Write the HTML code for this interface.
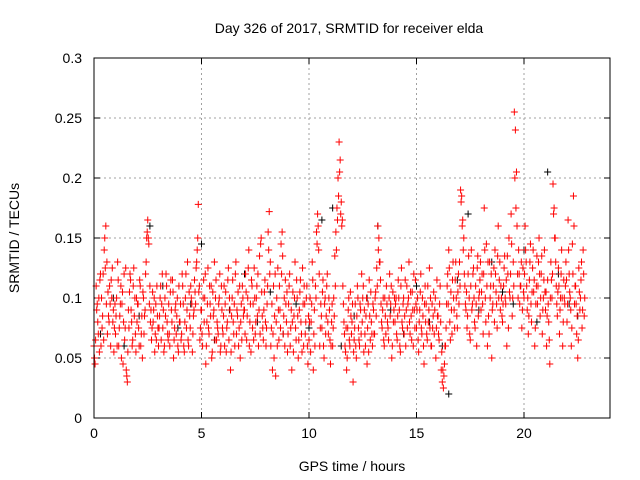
<!DOCTYPE html>
<html><head><meta charset="utf-8"><style>
body{margin:0;background:#fff}
svg{display:block;font-family:"Liberation Sans",sans-serif}
</style></head><body>
<svg id="chart" width="640" height="480">
<text x="349" y="33" font-size="14" text-anchor="middle">Day 326 of 2017, SRMTID for receiver elda</text>
<text x="352" y="471" font-size="14" text-anchor="middle">GPS time / hours</text>
<text transform="translate(19,238) rotate(-90)" font-size="14" text-anchor="middle">SRMTID / TECUs</text>
<g id="grid"></g><g id="ticks"></g><g id="pts"></g>
<rect x="94" y="58" width="516" height="360" fill="none" stroke="#000"/>
</svg>
<script>
const xTicks=[0,5,10,15,20];
const yTicks=[0,0.05,0.1,0.15,0.2,0.25,0.3];
const yTickLabels=["0","0.05","0.1","0.15","0.2","0.25","0.3"];
const startHour=0.0;
const startHour2=0.025;
const stepHours=0.05;
// red SRMTID values (thousandths of TECU), 20 per hour
const redValues=[
60,45,110,95,70,55,120,100,85,65,150,160,130,105,80,95,115,125,90,75,
70,100,130,60,85,110,95,45,120,75,40,30,90,105,115,80,65,125,100,55,
80,95,60,110,70,50,100,85,120,150,165,145,110,90,75,80,100,70,65,85,
60,85,110,95,75,55,100,120,80,65,70,105,90,115,50,75,95,85,60,110,
80,65,120,95,55,100,75,130,60,85,110,95,70,90,105,125,140,178,110,75,
90,60,115,100,45,80,125,70,95,110,55,85,130,100,65,75,95,120,60,90,
70,110,95,55,80,125,100,40,85,115,70,60,130,90,105,75,50,95,110,85,
90,120,65,100,140,80,55,110,95,125,70,100,85,60,135,145,105,75,90,115,
60,95,155,172,130,75,40,110,85,35,100,125,65,90,145,155,70,100,115,80,
55,95,120,75,40,105,85,130,65,100,50,90,115,70,125,60,95,80,110,45,
65,100,80,130,40,90,110,155,170,140,60,95,75,115,50,100,85,120,70,90,
45,80,60,100,135,155,175,200,230,215,180,165,95,70,55,40,75,100,60,85,
80,30,65,95,50,110,75,60,90,120,100,55,70,85,45,95,115,65,80,60,
90,70,105,125,160,150,130,95,75,100,60,85,110,80,65,120,95,50,105,90,
80,100,65,115,90,55,125,75,100,85,60,110,95,130,70,85,105,60,90,115,
75,100,55,90,120,70,85,45,110,95,65,80,125,100,60,75,105,90,50,115,
85,65,110,40,30,25,45,60,95,120,140,80,105,70,130,90,115,100,75,120,
130,190,185,165,150,110,90,75,120,100,65,140,95,125,80,110,60,135,100,115,
90,120,70,175,100,145,60,85,130,110,50,95,125,140,105,75,160,115,90,100,
80,110,135,95,60,120,150,100,170,85,130,255,240,205,120,140,95,110,75,125,
100,160,130,90,70,115,145,80,125,105,60,95,135,110,150,85,120,70,100,140,
90,60,115,80,45,130,100,195,175,150,110,85,125,70,100,140,60,115,95,130,
80,165,120,100,60,145,185,95,110,70,50,125,90,115,75,140,85
];
// second red pass, offset by half a step
const redValues2=[
50,65,90,80,100,115,60,75,120,140,125,95,70,85,110,60,100,80,55,95,
85,60,115,75,95,50,105,80,65,125,35,55,75,120,90,60,110,85,70,100,
95,75,115,60,85,105,70,90,130,155,150,95,80,65,105,90,55,95,110,75,
75,100,65,120,90,60,85,110,70,95,60,115,80,105,65,90,70,100,55,80,
95,70,110,60,80,120,90,65,105,75,100,55,85,115,95,130,150,105,65,90,
70,100,80,120,60,95,75,110,85,50,105,90,65,115,80,70,100,55,110,75,
85,60,105,75,115,65,90,55,100,80,95,120,70,85,60,110,80,65,100,90,
70,105,85,125,60,95,115,75,65,100,80,110,120,90,70,150,85,65,105,80,
75,110,140,120,60,95,70,50,120,80,60,90,110,75,120,135,85,60,95,105,
70,110,60,90,80,55,100,75,115,85,65,105,80,55,95,110,70,100,60,85,
80,55,95,115,70,60,100,145,160,120,75,85,105,60,95,70,110,80,100,65,
60,95,75,85,110,140,165,185,205,170,160,110,80,60,75,50,90,65,105,70,
95,55,75,60,85,100,65,95,70,80,110,90,60,100,75,55,85,105,70,95,
70,100,85,110,140,130,115,80,90,65,100,70,95,75,100,85,110,60,80,100,
95,70,85,100,60,110,80,95,70,115,90,75,100,80,105,65,90,120,75,95,
90,65,80,105,75,100,60,95,80,70,110,90,75,60,95,85,70,100,75,85,
70,95,80,55,40,35,60,75,110,95,125,65,90,115,100,75,130,85,105,95,
110,180,160,140,120,95,105,85,135,70,110,90,120,100,75,95,125,85,105,130,
105,95,120,140,80,110,130,70,100,120,90,110,80,120,95,135,100,130,110,85,
95,125,100,115,135,75,105,120,145,100,110,200,175,160,100,120,110,130,90,105,
120,140,110,100,85,130,95,105,140,115,75,110,95,130,120,100,135,90,115,105,
105,85,95,65,100,115,120,170,150,130,95,105,110,90,120,100,80,100,110,115,
95,140,105,90,75,120,160,110,95,85,65,105,100,130,90,120,100
];
// black SRMTID points
const blackTimes=[0.3,0.9,1.4,2.1,2.6,3.2,3.9,4.5,5.0,5.6,6.3,7.0,7.6,8.2,8.8,9.4,10.0,10.6,11.1,11.5,12.1,12.7,13.2,13.8,14.4,15.0,15.6,16.2,16.5,16.9,17.4,17.9,18.5,19.0,19.5,20.0,20.6,21.1,21.6,22.1,22.5];
const blackValues=[70,100,60,85,160,110,75,95,145,65,90,120,80,105,70,95,75,165,175,60,85,100,160,90,70,110,80,60,20,115,170,90,130,105,95,140,80,205,120,95,85];

const sx=h=>94+h*(516/24), sy=v=>418-v*1200;
const NS="http://www.w3.org/2000/svg";
const grid=document.getElementById('grid'),ticks=document.getElementById('ticks'),pts=document.getElementById('pts');
function mk(tag,attrs,parent){const e=document.createElementNS(NS,tag);for(const k in attrs)e.setAttribute(k,attrs[k]);parent.appendChild(e);return e;}
xTicks.forEach(t=>{const x=sx(t);
 if(t>0){const g=mk('line',{x1:x,x2:x,y1:58,y2:418,stroke:'#a0a0a0','stroke-dasharray':'2,3'},grid);
 
 }
 const l=mk('line',{x1:x,x2:x,y1:418,y2:412,stroke:'#000'},ticks);
 
 
 mk('line',{x1:x,x2:x,y1:58,y2:64,stroke:'#000'},ticks);
 const tx=mk('text',{x:x,y:438,'font-size':14,'text-anchor':'middle'},ticks);tx.textContent=t;
 
 });
yTicks.forEach((t,i)=>{const y=sy(t);
 if(t>0&&t<0.3){const g=mk('line',{x1:94,x2:610,y1:y,y2:y,stroke:'#a0a0a0','stroke-dasharray':'2,3'},grid);
 
 }
 mk('line',{x1:94,x2:100,y1:y,y2:y,stroke:'#000'},ticks);
 mk('line',{x1:604,x2:610,y1:y,y2:y,stroke:'#000'},ticks);
 const tx=mk('text',{x:82,y:y+5,'font-size':14,'text-anchor':'end'},ticks);tx.textContent=yTickLabels[i];
 
 });
function cross(h,v,col,name){const x=sx(h),y=sy(v/1000);
 const p=mk('path',{d:`M${x-3.5} ${y}H${x+3.5}M${x} ${y-3.5}V${y+3.5}`,stroke:col,'stroke-width':1},pts);
 
 }
blackValues.forEach((v,i)=>cross(blackTimes[i],v,'#000','black-point'));
redValues.forEach((v,i)=>cross(startHour+i*stepHours,v,'#f00','red-point'));
redValues2.forEach((v,i)=>cross(startHour2+i*stepHours,v,'#f00','red-point'));
</script>
</body></html>
